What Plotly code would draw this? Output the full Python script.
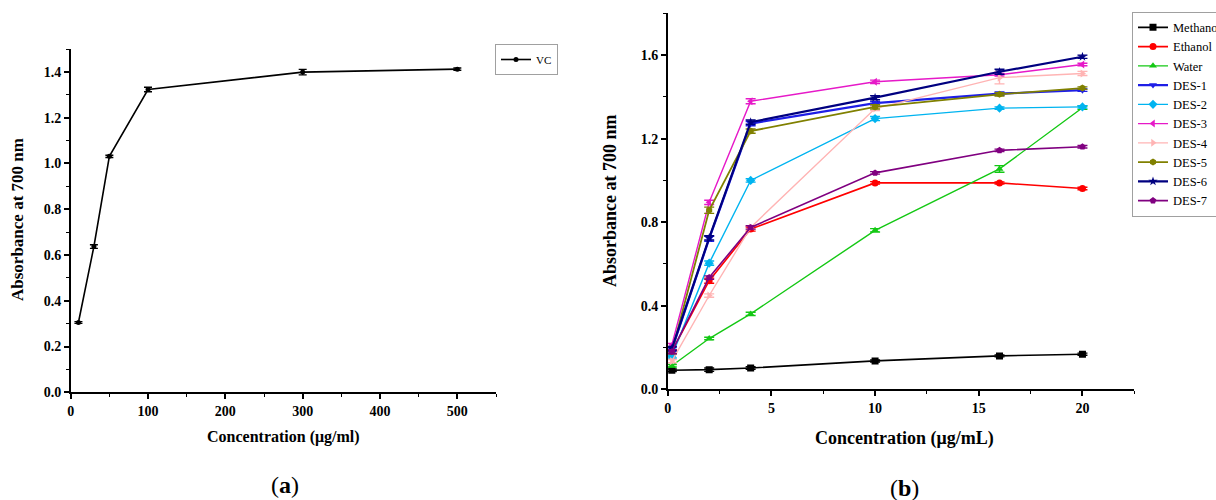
import plotly.graph_objects as go

# ---------- Panel (a) data ----------
vc_conc = [10, 30, 50, 100, 300, 500]
vc_abs = [0.305, 0.637, 1.031, 1.323, 1.399, 1.412]
vc_err = [0.004, 0.008, 0.005, 0.010, 0.012, 0.005]

# ---------- Panel (b) data ----------
conc_b = [0.2, 2, 4, 10, 16, 20]
series_names = ["Methanol", "Ethanol", "Water", "DES-1", "DES-2", "DES-3",
                "DES-4", "DES-5", "DES-6", "DES-7"]
methanol = [0.091, 0.094, 0.102, 0.136, 0.160, 0.168]
ethanol = [0.180, 0.520, 0.767, 0.988, 0.988, 0.961]
water = [0.113, 0.243, 0.361, 0.761, 1.055, 1.348]
des1 = [0.190, 0.721, 1.272, 1.370, 1.415, 1.432]
des2 = [0.160, 0.604, 1.000, 1.296, 1.346, 1.352]
des3 = [0.212, 0.895, 1.379, 1.472, 1.506, 1.555]
des4 = [0.135, 0.449, 0.775, 1.344, 1.492, 1.512]
des5 = [0.180, 0.857, 1.236, 1.352, 1.412, 1.442]
des6 = [0.195, 0.725, 1.279, 1.396, 1.520, 1.592]
des7 = [0.180, 0.535, 0.775, 1.036, 1.144, 1.161]
values_b = [methanol, ethanol, water, des1, des2, des3, des4, des5, des6, des7]
err_methanol = [0.006, 0.008, 0.006, 0.005, 0.005, 0.005]
err_ethanol = [0.008, 0.012, 0.010, 0.006, 0.005, 0.006]
err_water = [0.006, 0.006, 0.008, 0.008, 0.016, 0.008]
err_des1 = [0.010, 0.012, 0.010, 0.008, 0.008, 0.006]
err_des2 = [0.010, 0.010, 0.008, 0.010, 0.006, 0.006]
err_des3 = [0.008, 0.010, 0.012, 0.008, 0.006, 0.006]
err_des4 = [0.008, 0.008, 0.008, 0.010, 0.030, 0.010]
err_des5 = [0.010, 0.015, 0.010, 0.010, 0.008, 0.006]
err_des6 = [0.010, 0.010, 0.010, 0.010, 0.012, 0.008]
err_des7 = [0.010, 0.008, 0.008, 0.006, 0.006, 0.006]
errors_b = [err_methanol, err_ethanol, err_water, err_des1, err_des2, err_des3,
            err_des4, err_des5, err_des6, err_des7]

colors_b = ["#000000", "#FF0000", "#14C814", "#1E1EE6", "#00B4F0", "#E619C8",
            "#FFB4B4", "#808000", "#000080", "#800080"]
symbols_b = ["square", "circle", "triangle-up", "triangle-down", "diamond",
             "triangle-left", "triangle-right", "hexagon", "star", "pentagon"]
widths_b = [1.6, 1.6, 1.4, 2.2, 1.4, 1.4, 1.4, 1.8, 2.2, 1.6]

SERIF = "Liberation Serif"

fig = go.Figure()

fig.add_trace(go.Scatter(
    x=vc_conc, y=vc_abs, name="VC", mode="lines+markers",
    line=dict(color="black", width=1.6),
    marker=dict(symbol="circle", size=5, color="black"),
    error_y=dict(type="data", array=vc_err, color="black", thickness=1.4, width=4),
    xaxis="x", yaxis="y", legend="legend",
))

for name, vals, errs, col, sym, lw in zip(series_names, values_b, errors_b,
                                          colors_b, symbols_b, widths_b):
    fig.add_trace(go.Scatter(
        x=conc_b, y=vals, name=name, mode="lines+markers",
        line=dict(color=col, width=lw),
        marker=dict(symbol=sym, size=7, color=col),
        error_y=dict(type="data", array=errs, color=col, thickness=1.4, width=5),
        xaxis="x2", yaxis="y2", legend="legend2",
    ))

W, H = 1216, 500

def px_x(p):
    return p / W

def px_y(p):
    return 1 - p / H

tickfont = dict(family=SERIF, size=14, color="black", weight="bold")
axis_common = dict(showline=True, linecolor="black", linewidth=1.5,
                   ticks="outside", ticklen=5, tickwidth=1.5, tickcolor="black",
                   showgrid=False, zeroline=False, tickfont=tickfont)

def label(text, x, y, size, angle=0, bold=True):
    return dict(text=text, x=px_x(x), y=px_y(y), xref="paper", yref="paper",
                xanchor="center", yanchor="middle", showarrow=False, textangle=angle,
                font=dict(family=SERIF, size=size, color="black",
                          weight="bold" if bold else "normal"))

fig.update_layout(
    width=W, height=H,
    paper_bgcolor="white", plot_bgcolor="white",
    margin=dict(l=0, r=0, t=0, b=0, autoexpand=False),
    showlegend=True,
    xaxis=dict(domain=[px_x(70.7), px_x(496)], range=[0, 550], dtick=100, tick0=0,
               minor=dict(ticks="outside", ticklen=3, tickwidth=1.2, dtick=50, tickcolor="black"),
               anchor="y", **axis_common),
    yaxis=dict(domain=[px_y(392.3), px_y(49)], range=[0, 1.5], dtick=0.2, tick0=0,
               tickformat=".1f",
               minor=dict(ticks="outside", ticklen=3, tickwidth=1.2, dtick=0.1, tickcolor="black"),
               anchor="x", **axis_common),
    xaxis2=dict(domain=[px_x(667.7), px_x(1134.3)], range=[0, 22.5], dtick=5, tick0=0,
                minor=dict(ticks="outside", ticklen=3, tickwidth=1.2, dtick=2.5, tickcolor="black"),
                anchor="y2", **axis_common),
    yaxis2=dict(domain=[px_y(389.3), px_y(13.3)], range=[0, 1.8], dtick=0.4, tick0=0,
                tickformat=".1f",
                minor=dict(ticks="outside", ticklen=3, tickwidth=1.2, dtick=0.2, tickcolor="black"),
                anchor="x2", **axis_common),
    legend=dict(x=px_x(495), y=px_y(44), xanchor="left", yanchor="top",
                bordercolor="#A0A0A0", borderwidth=1, bgcolor="white",
                font=dict(family=SERIF, size=11, color="black"),
                tracegroupgap=0, itemwidth=30),
    legend2=dict(x=px_x(1132), y=px_y(11.7), xanchor="left", yanchor="top",
                 bordercolor="#A0A0A0", borderwidth=1, bgcolor="white",
                 font=dict(family=SERIF, size=12.5, color="black"),
                 tracegroupgap=0, itemwidth=30),
    annotations=[
        label("Absorbance at 700 nm", 18, 220, 17, angle=-90),
        label("Concentration (μg/ml)", 283, 437, 16),
        label("(<b>a</b>)", 285, 485, 24, bold=False),
        label("Absorbance at 700 nm", 610, 201, 18, angle=-90),
        label("Concentration (μg/mL)", 905, 438, 18),
        label("(<b>b</b>)", 905, 488, 24, bold=False),
    ],
)

fig.write_html("out.html", config={"displayModeBar": False},
               post_script="document.body.style.margin='0px';")
